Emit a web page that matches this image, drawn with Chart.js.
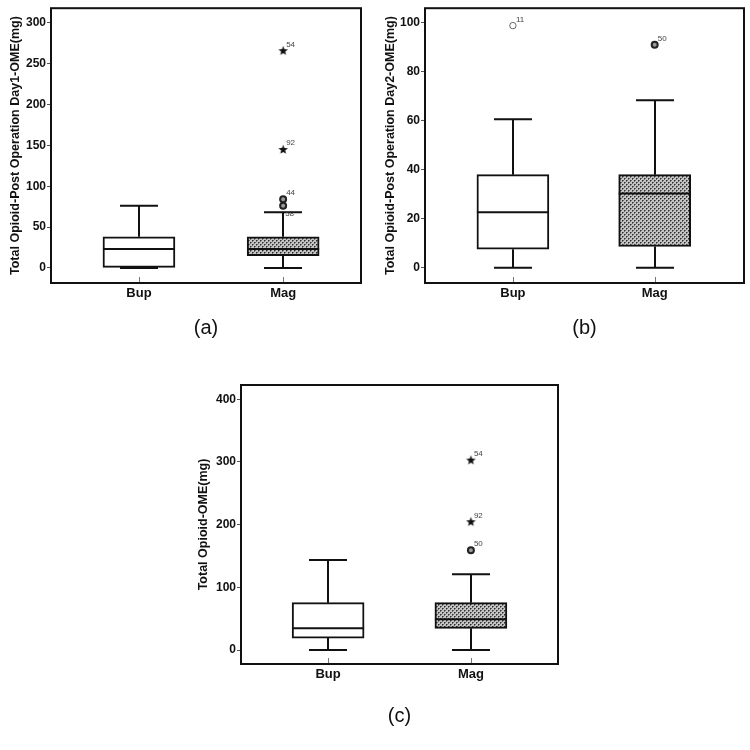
<!DOCTYPE html>
<html>
<head>
<meta charset="utf-8">
<script src="https://cdn.jsdelivr.net/npm/chart.js@4.4.0/dist/chart.umd.min.js"></script>
<style>
  body { margin: 0; background: #fff; }
  canvas { position: absolute; }
</style>
</head>
<body>
<canvas id="panelA" width="370" height="350" style="left:0px;top:0px"></canvas>
<canvas id="panelB" width="380" height="350" style="left:370px;top:0px"></canvas>
<canvas id="panelC" width="400" height="380" style="left:180px;top:370px"></canvas>
<script>
// ---- data ----
const categories = ["Bup", "Mag"];

// (a) day 1
const day1Min = [0, 0];
const day1Q1 = [0, 15];
const day1Median = [23, 23];
const day1Q3 = [38, 38];
const day1Max = [76, 68];
const day1Outliers = [[], [76, 84]];
const day1OutlierIds = [[], ["58", "44"]];
const day1Extremes = [[], [145, 266]];
const day1ExtremeIds = [[], ["92", "54"]];
const day1Ticks = [0, 50, 100, 150, 200, 250, 300];

// (b) day 2
const day2Min = [0, 0];
const day2Q1 = [7.6, 8.7];
const day2Median = [22.7, 30.3];
const day2Q3 = [38, 38];
const day2Max = [60.6, 68.3];
const day2Outliers = [[98.8], [91]];
const day2OutlierIds = [["11"], ["50"]];
const day2Extremes = [[], []];
const day2ExtremeIds = [[], []];
const day2Ticks = [0, 20, 40, 60, 80, 100];

// (c) total
const totalMin = [0, 0];
const totalQ1 = [19, 34.6];
const totalMedian = [34.6, 49];
const totalQ3 = [75.5, 75.5];
const totalMax = [143.6, 121];
const totalOutliers = [[], [159]];
const totalOutlierIds = [[], ["50"]];
const totalExtremes = [[], [204.7, 303]];
const totalExtremeIds = [[], ["92", "54"]];
const totalTicks = [0, 100, 200, 300, 400];

const FONT = 'Arial, "Liberation Sans", sans-serif';

// dotted fill for the Mag boxes
function dotPattern() {
    const c = document.createElement("canvas");
    c.width = 4; c.height = 4;
    const g = c.getContext("2d");
    g.fillStyle = "#c4c4c4";
    g.fillRect(0, 0, 4, 4);
    g.fillStyle = "#2e2e2e";
    g.fillRect(0, 0, 1, 1);
    g.fillRect(2, 2, 1, 1);
    g.fillStyle = "#6e6e6e";
    g.fillRect(1, 0, 1, 1);
    g.fillRect(3, 2, 1, 1);
    g.fillRect(0, 1, 1, 1);
    g.fillRect(2, 3, 1, 1);
    return document.getElementById("panelA").getContext("2d").createPattern(c, "repeat");
}

// filled star used for extreme values
function starImage() {
    const c = document.createElement("canvas");
    c.width = 11; c.height = 11;
    const g = c.getContext("2d");
    g.fillStyle = "#111";
    g.beginPath();
    for (let k = 0; k < 10; k++) {
        const r = k % 2 === 0 ? 5 : 2.1;
        const a = -Math.PI / 2 + k * Math.PI / 5;
        const px = 5.5 + r * Math.cos(a), py = 5.8 + r * Math.sin(a);
        k === 0 ? g.moveTo(px, py) : g.lineTo(px, py);
    }
    g.closePath();
    g.fill();
    return c;
}

const pattern = dotPattern();
const star = starImage();

const boxParts = {
    id: "boxParts",
    beforeDatasetsDraw(chart, args, o) {
        const { ctx } = chart;
        const x = chart.scales.x, y = chart.scales.y;
        ctx.save();
        ctx.strokeStyle = "#111";
        ctx.lineWidth = 2;
        o.min.forEach((v, i) => {
            const cx = Math.round(x.getPixelForValue(i + 1));
            const hw = o.capWidth / 2;
            const yMax = y.getPixelForValue(o.max[i]);
            const yMin = y.getPixelForValue(v);
            ctx.beginPath();
            ctx.moveTo(cx, yMax); ctx.lineTo(cx, y.getPixelForValue(o.q3[i]));
            ctx.moveTo(cx, y.getPixelForValue(o.q1[i])); ctx.lineTo(cx, yMin);
            ctx.moveTo(cx - hw, yMax); ctx.lineTo(cx + hw, yMax);
            ctx.moveTo(cx - hw, yMin); ctx.lineTo(cx + hw, yMin);
            ctx.stroke();
        });
        ctx.restore();
    },
    afterDatasetsDraw(chart, args, o) {
        const { ctx, chartArea: a } = chart;
        const x = chart.scales.x, y = chart.scales.y;
        ctx.save();
        // medians
        ctx.strokeStyle = "#111";
        ctx.lineWidth = 2;
        o.median.forEach((v, i) => {
            const cx = x.getPixelForValue(i + 1);
            const py = y.getPixelForValue(v);
            ctx.beginPath();
            ctx.moveTo(cx - o.boxWidth / 2, py);
            ctx.lineTo(cx + o.boxWidth / 2, py);
            ctx.stroke();
        });
        // frame
        ctx.lineWidth = 2;
        ctx.strokeRect(a.left, a.top, a.right - a.left, a.bottom - a.top);
        // small category ticks inside the frame
        ctx.strokeStyle = "#777";
        ctx.lineWidth = 1;
        o.min.forEach((v, i) => {
            const cx = Math.round(x.getPixelForValue(i + 1)) + 0.5;
            ctx.beginPath();
            ctx.moveTo(cx, a.bottom - 6);
            ctx.lineTo(cx, a.bottom - 1);
            ctx.stroke();
        });
        // outlier case numbers
        ctx.fillStyle = "#444";
        ctx.font = "8px " + FONT;
        ctx.textAlign = "left";
        chart.data.datasets.forEach((ds, di) => {
            if (!ds.ids) return;
            chart.getDatasetMeta(di).data.forEach((pt, j) => {
                const below = o.below.includes(ds.ids[j]);
                ctx.fillText(ds.ids[j], pt.x + (below ? 2 : 3), pt.y + (below ? 10 : -4));
            });
        });
        ctx.restore();
    }
};

function makePanel(id, p) {
    const outlierData = [], outlierIds = [], extremeData = [], extremeIds = [];
    categories.forEach((c, i) => {
        p.outliers[i].forEach((v, j) => { outlierData.push({ x: i + 1, y: v }); outlierIds.push(p.outlierIds[i][j]); });
        p.extremes[i].forEach((v, j) => { extremeData.push({ x: i + 1, y: v }); extremeIds.push(p.extremeIds[i][j]); });
    });
    return new Chart(document.getElementById(id), {
        type: "bar",
        data: {
            datasets: [
                {
                    label: "box",
                    data: categories.map((c, i) => ({ x: i + 1, y: [p.q1[i], p.q3[i]] })),
                    backgroundColor: ["#fff", pattern],
                    borderColor: "#111",
                    borderWidth: 2,
                    borderSkipped: false,
                    barThickness: 72,
                    order: 2
                },
                {
                    type: "scatter",
                    label: "outliers",
                    data: outlierData,
                    ids: outlierIds,
                    pointStyle: "circle",
                    pointRadius: outlierData.map(d => d.x === 1 ? 3.2 : 3),
                    borderWidth: outlierData.map(d => d.x === 1 ? 1 : 2),
                    borderColor: outlierData.map(d => d.x === 1 ? "#666" : "#222"),
                    backgroundColor: outlierData.map(d => d.x === 1 ? "#fff" : "#999"),
                    order: 1
                },
                {
                    type: "scatter",
                    label: "extremes",
                    data: extremeData,
                    ids: extremeIds,
                    pointStyle: star,
                    order: 1
                }
            ]
        },
        options: {
            responsive: false,
            animation: false,
            events: [],
            layout: { padding: p.padding },
            scales: {
                x: {
                    type: "linear",
                    min: p.xMin,
                    max: p.xMax,
                    offset: false,
                    grid: { display: false, drawTicks: false },
                    border: { display: false },
                    afterBuildTicks: s => { s.ticks = categories.map((c, i) => ({ value: i + 1 })); },
                    afterFit: s => { s.height = 28; },
                    ticks: {
                        padding: 3,
                        color: "#111",
                        font: { family: FONT, size: 13, weight: "bold" },
                        callback: v => categories[v - 1]
                    }
                },
                y: {
                    min: p.yMin,
                    max: p.yMax,
                    grid: { drawOnChartArea: false, tickLength: 4, color: "#555", lineWidth: 1 },
                    border: { display: false },
                    afterBuildTicks: s => { s.ticks = p.ticks.map(v => ({ value: v })); },
                    afterFit: s => { s.width = p.yWidth; },
                    ticks: {
                        padding: 1,
                        color: "#111",
                        font: { family: FONT, size: 12, weight: "bold" }
                    },
                    title: {
                        display: true,
                        text: p.yTitle,
                        color: "#111",
                        padding: { top: 0, bottom: 0 },
                        font: { family: FONT, size: 12.5, weight: "bold" }
                    }
                }
            },
            plugins: {
                legend: { display: false },
                tooltip: { enabled: false },
                title: {
                    display: true,
                    text: p.title,
                    position: "bottom",
                    fullSize: false,
                    color: "#111",
                    padding: p.titlePad,
                    font: { family: FONT, size: 20, weight: "normal" }
                },
                boxParts: {
                    min: p.min, q1: p.q1, median: p.median, q3: p.q3, max: p.max,
                    boxWidth: 72, capWidth: 38, below: p.below || []
                }
            }
        },
        plugins: [boxParts]
    });
}

makePanel("panelA", {
    min: day1Min, q1: day1Q1, median: day1Median, q3: day1Q3, max: day1Max,
    outliers: day1Outliers, outlierIds: day1OutlierIds, extremes: day1Extremes, extremeIds: day1ExtremeIds,
    ticks: day1Ticks, yMin: -18.5, yMax: 318, xMin: 0.39, xMax: 2.54,
    yTitle: "Total Opioid-Post Operation Day1-OME(mg)", title: "(a)",
    yWidth: 43, padding: { left: 8, right: 9, top: 3, bottom: 0 },
    titlePad: { top: 5, bottom: 10 }, below: ["58"]
});

makePanel("panelB", {
    min: day2Min, q1: day2Q1, median: day2Median, q3: day2Q3, max: day2Max,
    outliers: day2Outliers, outlierIds: day2OutlierIds, extremes: day2Extremes, extremeIds: day2ExtremeIds,
    ticks: day2Ticks, yMin: -6.2, yMax: 105.9, xMin: 0.38, xMax: 2.63,
    yTitle: "Total Opioid-Post Operation Day2-OME(mg)", title: "(b)",
    yWidth: 42, padding: { left: 13, right: 3, top: 3, bottom: 0 },
    titlePad: { top: 5, bottom: 10 }
});

makePanel("panelC", {
    min: totalMin, q1: totalQ1, median: totalMedian, q3: totalQ3, max: totalMax,
    outliers: totalOutliers, outlierIds: totalOutlierIds, extremes: totalExtremes, extremeIds: totalExtremeIds,
    ticks: totalTicks, yMin: -22.3, yMax: 422.8, xMin: 0.39, xMax: 2.61,
    yTitle: "Total Opioid-OME(mg)", title: "(c)",
    yWidth: 45, padding: { left: 16, right: 22, top: 15, bottom: 0 },
    titlePad: { top: 12, bottom: 22 }
});
</script>
</body>
</html>
